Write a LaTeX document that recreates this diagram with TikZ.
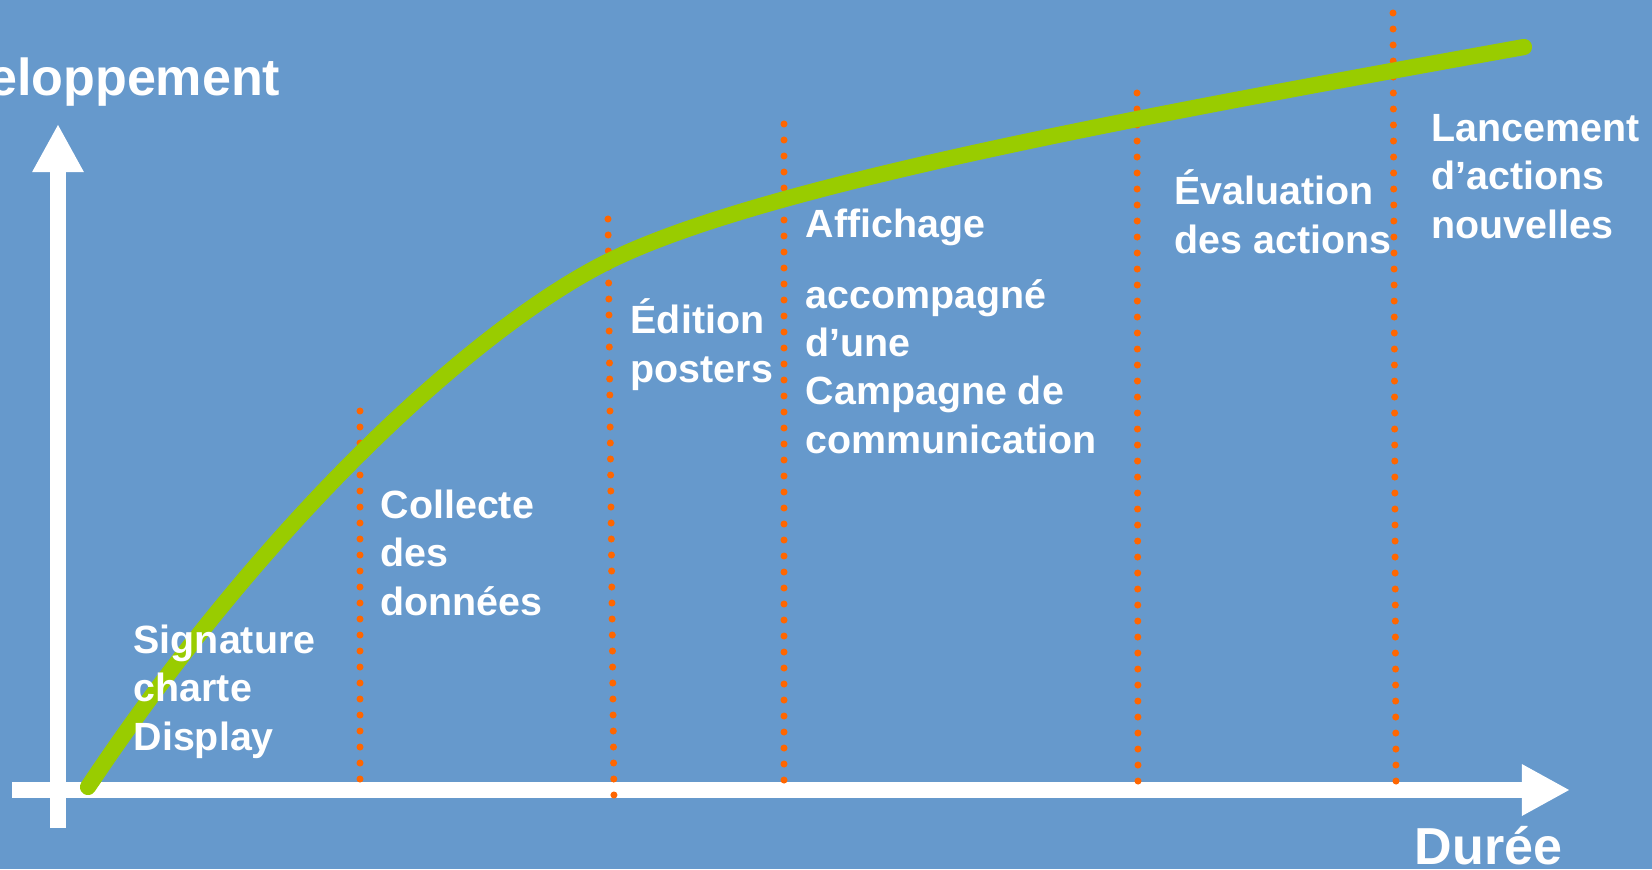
\documentclass[tikz,border=0pt]{standalone}
\usepackage{fontspec}
\setmainfont{Liberation Sans}
\usepackage{tikz}
\usetikzlibrary{arrows.meta}

\definecolor{fond}{HTML}{6699CC}
\definecolor{courbe}{HTML}{99CC00}
\definecolor{orangejalon}{HTML}{FF6600}

\tikzset{
  etiquette/.style = {anchor = base west, align = left, text = white, inner sep = 0pt,
    font = \bfseries\fontsize{11.2}{13.7}\selectfont},
  titreaxe/.style = {text = white, inner sep = 0pt, font = \bfseries\fontsize{14.8}{17}\selectfont},
  separation/.style = {color = orangejalon, line width = 2pt, line cap = round,
    dash pattern = on 0pt off 4.55pt},
  axe/.style = {white, line width = 4.5pt, -{Triangle[length = 13.7pt, width = 13.7pt]}}
}

\begin{document}
\begin{tikzpicture}[x = 0.01cm, y = -0.01cm]
\clip (0, 0) rectangle (1652, 869);
\fill[fond] (0, 0) rectangle (1652, 869);

% axes
\coordinate (ybas) at (58, 828);
\coordinate (yhaut) at (58, 124);
\coordinate (xgauche) at (12, 790);
\coordinate (xdroite) at (1570, 790);
\draw [axe] (ybas) to (yhaut);
\draw [axe] (xgauche) to (xdroite);
\node (ytitre) at (281, 95) [titreaxe, anchor = base east] {Développement};
\node (xtitre) at (1414, 864) [titreaxe, anchor = base west] {Durée};

% etapes
\draw [separation] (360, 411) to (360, 780);
\draw [separation] (608, 219) to (614, 801);
\draw [separation] (784, 124) to (784, 785);
\draw [separation] (1137, 93) to (1138, 785);
\draw [separation] (1393, 13) to (1396, 784);

\draw [color = courbe, line width = 4.6pt, line cap = round]
  (88, 787) .. controls (268, 517) and (477, 327) .. (607, 262)
  .. controls (757, 187) and (1124, 119) .. (1524, 47);

% textes (ancre = ligne de base de la derniere ligne)
\node (signature) at (133, 750) [etiquette] {Signature\\charte\\Display};
\node (collecte) at (380, 615) [etiquette] {Collecte\\des\\données};
\node (edition) at (630, 382) [etiquette] {Édition\\posters};
\node (affichage) at (805, 237) [etiquette] {Affichage};
\node (campagne) at (805, 453) [etiquette] {accompagné\\d’une\\Campagne de\\communication};
\node (evaluation) at (1174, 253) [etiquette] {Évaluation\\des actions};
\node (lancement) at (1431, 238) [etiquette] {Lancement\\d’actions\\nouvelles};
\end{tikzpicture}
\end{document}
